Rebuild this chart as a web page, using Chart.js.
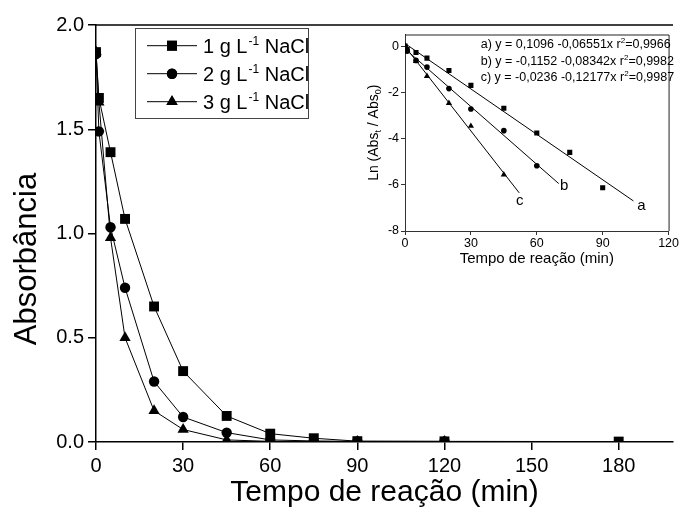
<!DOCTYPE html>
<html><head><meta charset="utf-8">
<script src="https://cdn.jsdelivr.net/npm/chart.js@4.4.1/dist/chart.umd.min.js"></script>
<style>
html,body{margin:0;padding:0;background:#fff;}
#wrap{position:relative;width:680px;height:514px;overflow:hidden;background:#fff;}
#main{position:absolute;left:0;top:0;}
#inset{position:absolute;left:360px;top:25px;}
</style></head><body>
<div id="wrap"><canvas id="main" width="680" height="514"></canvas><canvas id="inset" width="320" height="245"></canvas></div>
<script>
const FONT = "'Liberation Sans', Arial, sans-serif";

// ---- main chart data ----
const timeMin = [0, 1, 5, 10, 20, 30, 45, 60, 75, 90, 120, 180];
const abs1g = [1.87, 1.65, 1.39, 1.07, 0.65, 0.34, 0.125, 0.04, 0.018, 0.004, 0.003, 0.002];
const abs2g = [1.86, 1.49, 1.03, 0.74, 0.29, 0.12, 0.045, 0.01, 0.005, 0.003, 0.003];
const abs3g = [1.87, 1.63, 0.98, 0.50, 0.15, 0.06, 0.01, 0.003, 0.002, 0.002, 0.002];
const seriesNames = [['1 g L', '-1', ' NaCl'], ['2 g L', '-1', ' NaCl'], ['3 g L', '-1', ' NaCl']];
const xTicksMain = [0, 30, 60, 90, 120, 150, 180];
const yTicksMain = [0, 0.5, 1.0, 1.5, 2.0];
const yTitleMain = 'Absorbância';

// ---- inset data ----
const tA = [0, 1, 5, 10, 20, 30, 45, 60, 75, 90];
const lnA = [0, -0.15, -0.28, -0.52, -1.06, -1.70, -2.69, -3.76, -4.60, -6.13];
const tB = [0, 1, 5, 10, 20, 30, 45, 60];
const lnB = [0, -0.22, -0.62, -0.91, -1.84, -2.72, -3.66, -5.18];
const tC = [0, 1, 5, 10, 20, 30, 45];
const lnC = [0, -0.15, -0.66, -1.30, -2.47, -3.46, -5.56];
const fitAx = [0, 104], fitAy = [0.11, -6.70];
const fitBx = [0, 70], fitBy = [-0.12, -5.95];
const fitCx = [0, 52], fitCy = [-0.02, -6.35];
const fitNames = ['a', 'b', 'c'];
const fitLabelX = [107.6, 72.5, 52.3];
const fitLabelY = [-6.9, -6.05, -6.7];
const equations = [
  ['a) y = 0,1096 -0,06551x r', '2', '=0,9966'],
  ['b) y = -0,1152 -0,08342x r', '2', '=0,9982'],
  ['c) y = -0,0236 -0,12177x r', '2', '=0,9987']
];
const xTicksInset = [0, 30, 60, 90, 120];
const yTicksInset = [-8, -6, -4, -2, 0];

const mk = (t, v) => v.map((y, i) => ({x: t[i], y}));
const base = {borderColor: '#000', backgroundColor: '#000', borderWidth: 1, pointBorderWidth: 0, tension: 0};

const framePlugin = {
  id: 'frame',
  afterDraw(chart) {
    const {ctx, chartArea: a} = chart;
    ctx.save();
    ctx.strokeStyle = '#000';
    ctx.lineWidth = 1.5;
    ctx.beginPath();
    ctx.moveTo(a.left, a.top);
    ctx.lineTo(a.right, a.top);
    ctx.stroke();
    // y title
    ctx.fillStyle = '#000';
    ctx.font = '31px ' + FONT;
    ctx.textAlign = 'center';
    ctx.textBaseline = 'alphabetic';
    ctx.translate(35.5, 259);
    ctx.rotate(-Math.PI / 2);
    ctx.fillText(yTitleMain, 0, 0);
    ctx.restore();
  }
};

const legendPlugin = {
  id: 'customLegend',
  afterDraw(chart) {
    const {ctx} = chart;
    ctx.save();
    const bx = 135.5, by = 28.5, bw = 173, bh = 90;
    ctx.fillStyle = '#fff';
    ctx.fillRect(bx, by, bw, bh);
    ctx.strokeStyle = '#444';
    ctx.lineWidth = 1;
    ctx.strokeRect(bx, by, bw, bh);
    chart.data.datasets.forEach((ds, i) => {
      const y = 45.7 + i * 28;
      ctx.strokeStyle = '#000';
      ctx.lineWidth = 1;
      ctx.beginPath();
      ctx.moveTo(147, y);
      ctx.lineTo(197, y);
      ctx.stroke();
      ctx.fillStyle = '#000';
      Chart.helpers.drawPoint(ctx, {pointStyle: ds.pointStyle, radius: ds.pointRadius, borderWidth: 0}, 172, y);
      ctx.fill();
      const parts = seriesNames[i];
      const bl = y + 7;
      let x = 203;
      ctx.textAlign = 'left';
      ctx.textBaseline = 'alphabetic';
      ctx.font = '20px ' + FONT;
      ctx.fillText(parts[0], x, bl);
      x += ctx.measureText(parts[0]).width + 1;
      ctx.font = '12px ' + FONT;
      ctx.fillText(parts[1], x, bl - 8);
      x += ctx.measureText(parts[1]).width;
      ctx.font = '20px ' + FONT;
      ctx.fillText(parts[2], x, bl);
    });
    ctx.restore();
  }
};

new Chart(document.getElementById('main'), {
  type: 'line',
  data: {datasets: [
    Object.assign({label: '1 g/L', data: mk(timeMin, abs1g), pointStyle: 'rect', pointRadius: 7}, base),
    Object.assign({label: '2 g/L', data: mk(timeMin, abs2g), pointStyle: 'circle', pointRadius: 5.2}, base),
    Object.assign({label: '3 g/L', data: mk(timeMin, abs3g), pointStyle: 'triangle', pointRadius: 6.5}, base)
  ]},
  options: {
    responsive: false, animation: false, devicePixelRatio: 1,
    layout: {padding: {top: 25, right: 0, left: 0, bottom: 0}},
    plugins: {legend: {display: false}, tooltip: {enabled: false}},
    scales: {
      x: {
        type: 'linear', min: 0, max: 198.7,
        afterBuildTicks: s => { s.ticks = xTicksMain.map(v => ({value: v})); },
        afterFit: s => { s.height = 72; },
        grid: {drawOnChartArea: false, tickLength: 8, color: '#000', lineWidth: 1.5},
        border: {color: '#000', width: 1.5},
        ticks: {font: {family: FONT, size: 20}, color: '#000', padding: 4, maxRotation: 0, autoSkip: false},
        title: {display: true, text: 'Tempo de reação (min)', font: {family: FONT, size: 30}, color: '#000', padding: {top: 0, bottom: 3}}
      },
      y: {
        type: 'linear', min: 0, max: 2,
        afterBuildTicks: s => { s.ticks = yTicksMain.map(v => ({value: v})); },
        afterFit: s => { s.width = 96; },
        grid: {drawOnChartArea: false, tickLength: 8, color: '#000', lineWidth: 1.5},
        border: {color: '#000', width: 1.5},
        ticks: {font: {family: FONT, size: 20}, color: '#000', padding: 4, callback: v => v.toFixed(1)},
        title: {display: false}
      }
    }
  },
  plugins: [framePlugin, legendPlugin]
});

// ---- inset ----
const insetPlugin = {
  id: 'insetDeco',
  afterDraw(chart) {
    const {ctx, chartArea: a, scales} = chart;
    ctx.save();
    ctx.strokeStyle = '#222';
    ctx.lineWidth = 1;
    ctx.beginPath();
    ctx.moveTo(a.left, a.top + 0.5);
    ctx.lineTo(a.right + 0.5, a.top + 0.5);
    ctx.lineTo(a.right + 0.5, a.bottom);
    ctx.stroke();
    // fit labels
    ctx.fillStyle = '#000';
    ctx.font = '15px ' + FONT;
    ctx.textAlign = 'center';
    ctx.textBaseline = 'middle';
    fitNames.forEach((n, i) => {
      ctx.fillText(n, scales.x.getPixelForValue(fitLabelX[i]), scales.y.getPixelForValue(fitLabelY[i]));
    });
    // equations
    ctx.textAlign = 'left';
    ctx.textBaseline = 'alphabetic';
    equations.forEach((p, i) => {
      let x = 120.7;
      const bl = 23.3 + i * 16.3;
      ctx.font = '12.5px ' + FONT;
      ctx.fillText(p[0], x, bl);
      x += ctx.measureText(p[0]).width;
      ctx.font = '8px ' + FONT;
      ctx.fillText(p[1], x, bl - 5);
      x += ctx.measureText(p[1]).width;
      ctx.font = '12.5px ' + FONT;
      ctx.fillText(p[2], x, bl);
    });
    // y title with subscripts
    const parts = [['Ln (Abs', 14, 0], ['t', 9, 3], [' / Abs', 14, 0], ['0', 9, 3], [')', 14, 0]];
    let total = 0;
    parts.forEach(p => { ctx.font = p[1] + 'px ' + FONT; total += ctx.measureText(p[0]).width; });
    ctx.translate(18, (a.top + a.bottom) / 2);
    ctx.rotate(-Math.PI / 2);
    let x = -total / 2;
    parts.forEach(p => {
      ctx.font = p[1] + 'px ' + FONT;
      ctx.fillText(p[0], x, p[2]);
      x += ctx.measureText(p[0]).width;
    });
    ctx.restore();
  }
};

const ptBase = {borderColor: '#000', backgroundColor: '#000', borderWidth: 0, showLine: false};
const lnBase = {borderColor: '#000', backgroundColor: '#000', borderWidth: 1, showLine: true, pointRadius: 0};

new Chart(document.getElementById('inset'), {
  type: 'scatter',
  data: {datasets: [
    Object.assign({data: mk(fitAx, fitAy)}, lnBase),
    Object.assign({data: mk(fitBx, fitBy)}, lnBase),
    Object.assign({data: mk(fitCx, fitCy)}, lnBase),
    Object.assign({data: mk(tA, lnA), pointStyle: 'rect', pointRadius: 3.6}, ptBase),
    Object.assign({data: mk(tB, lnB), pointStyle: 'circle', pointRadius: 2.8}, ptBase),
    Object.assign({data: mk(tC, lnC), pointStyle: 'triangle', pointRadius: 3.6}, ptBase)
  ]},
  options: {
    responsive: false, animation: false, devicePixelRatio: 1,
    layout: {padding: {top: 6, right: 7.3, left: 0, bottom: 0}},
    plugins: {legend: {display: false}, tooltip: {enabled: false}},
    scales: {
      x: {
        type: 'linear', min: 0, max: 120,
        afterBuildTicks: s => { s.ticks = xTicksInset.map(v => ({value: v})); },
        afterFit: s => { s.height = 39; },
        grid: {drawOnChartArea: false, tickLength: 4, color: '#333', lineWidth: 1},
        border: {color: '#333', width: 1},
        ticks: {font: {family: FONT, size: 12.5}, color: '#000', padding: 1, maxRotation: 0, autoSkip: false},
        title: {display: true, text: 'Tempo de reação (min)', font: {family: FONT, size: 15}, color: '#000', padding: {top: 0, bottom: 2}}
      },
      y: {
        type: 'linear', min: -8, max: 0.5,
        afterBuildTicks: s => { s.ticks = yTicksInset.map(v => ({value: v})); },
        afterFit: s => { s.width = 45; },
        grid: {drawOnChartArea: false, tickLength: 4, color: '#333', lineWidth: 1},
        border: {color: '#333', width: 1},
        ticks: {font: {family: FONT, size: 12.5}, color: '#000', padding: 2}
      }
    }
  },
  plugins: [insetPlugin]
});
</script>
</body></html>
